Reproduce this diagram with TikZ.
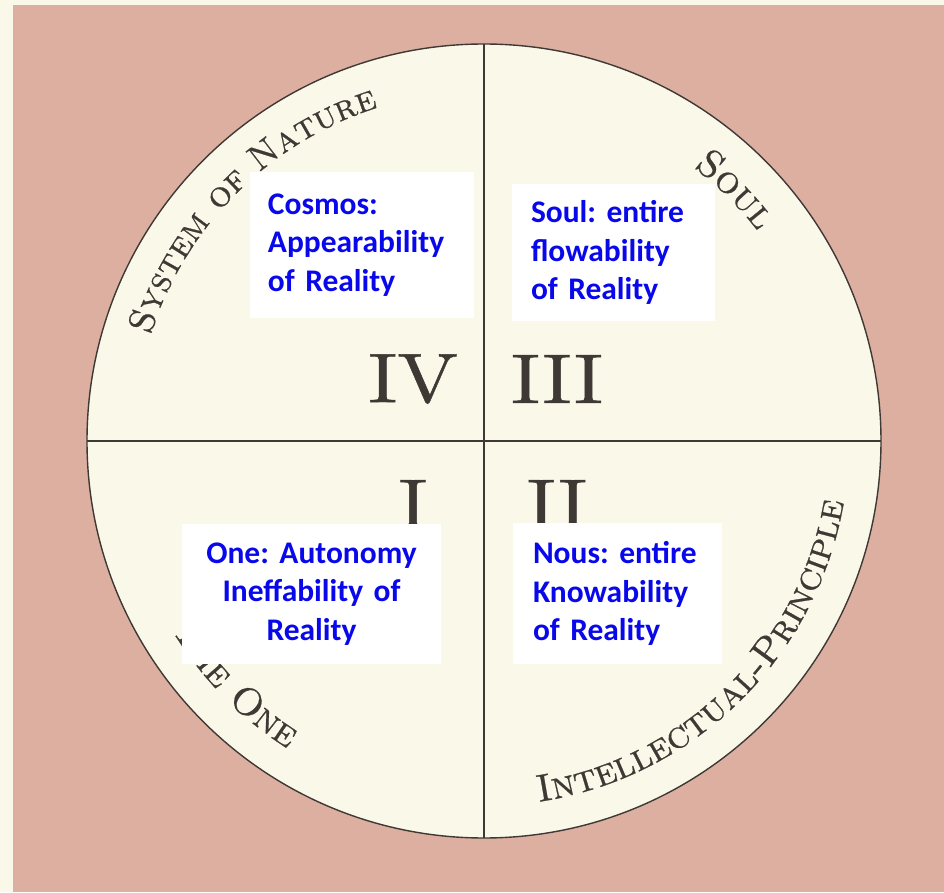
\documentclass[tikz,border=0pt]{standalone}
\usepackage{fontspec}
\newfontfamily\calibri{Carlito}
\newfontfamily\rimserif[Extension=.otf,UprightFont=*-regular,
  SmallCapsFont=lmromancaps10-regular,FakeBold=0.6]{lmroman10}
\usetikzlibrary{decorations.text}

\definecolor{cloth}{RGB}{221,175,160}
\definecolor{paper}{RGB}{250,248,233}
\definecolor{ink}{RGB}{62,57,52}
\definecolor{note}{RGB}{8,8,235}
\newcommand\rimfont[1][22]{\fontsize{#1}{#1}\selectfont\rimserif\scshape\color{ink}}

\tikzset{
  quarter/.style={fill=white, inner ysep=0pt, minimum height=#1, text=note,
    font=\calibri\bfseries\frenchspacing\fontsize{17.9}{21.8}\selectfont},
  numeral/.style={inner sep=0pt, text=ink, font=\rimserif\fontsize{40}{40}\selectfont},
  rim/.style={decorate, decoration={text along path, text align=center, text={|\rimfont|#1}}}
}

\begin{document}
\begin{tikzpicture}
    \useasboundingbox (-9.68,-9.02) rectangle (9.2,8.82);
    \fill[paper] (-9.68,-9.02) rectangle (9.2,8.82);
    \fill[cloth] (-9.42,-9.02) rectangle (9.2,8.72);

    \coordinate (c) at (0,0);
    \draw[ink,line width=.8pt,fill=paper] (c) circle(7.94);
    \draw[ink,line width=.8pt] (90:7.94)--(270:7.94);
    \draw[ink,line width=.8pt] (180:7.94)--(0:7.94);

    % names round the rim
    \path[decorate,decoration={text along path,text align=center,text={|\rimfont[20.5]|System of Nature}}]
      (190:7.0) arc[start angle=190,end angle=80,radius=7.0];
    \path[rim=Soul] (70:6.9) arc[start angle=70,end angle=20,radius=6.9];
    \path[rim=Intellectual-Principle] (-100:7.3) arc[start angle=-100,end angle=9,radius=7.3];
    \path[decorate,decoration={text along path,text align=right,text={|\rimfont|The One}}]
      (-180:7.3) arc[start angle=-180,end angle=-122.5,radius=7.3];

    \foreach \n/\x/\y in {IV/-1.42/1.24,III/1.46/1.24,I/-1.42/-1.26,II/1.46/-1.26}
      \node[numeral] (n\n) at (\x,\y) {\scalebox{1.15}[1]{\n}};

    \node[quarter=2.92cm,text width=3.76cm,inner xsep=.36cm,align=left] (cosmos)
      at (-2.44,3.92) {Cosmos:\\Appearability\\of Reality};
    \node[quarter=2.74cm,text width=3.30cm,inner xsep=.38cm,align=left] (soul)
      at (2.59,3.77) {Soul: entire\\flowability\\of Reality};
    \node[quarter=2.80cm,text width=4.42cm,inner xsep=.38cm,align=center] (one)
      at (-3.45,-3.06) {One: Autonomy\\Ineffability of\\Reality};
    \node[quarter=2.82cm,text width=3.38cm,inner xsep=.40cm,align=left] (nous)
      at (2.67,-3.05) {Nous: entire\\Knowability\\of Reality};
\end{tikzpicture}
\end{document}
